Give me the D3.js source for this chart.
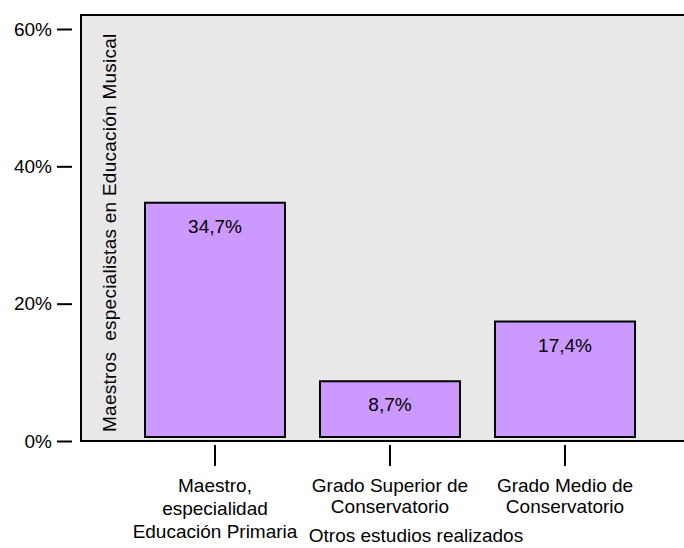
<!DOCTYPE html>
<html>
<head>
<meta charset="utf-8">
<script src="https://cdn.jsdelivr.net/npm/d3@7"></script>
<style>
  html, body { margin: 0; padding: 0; background: #ffffff; }
  svg { display: block; font-family: "Liberation Sans", Arial, Helvetica, sans-serif; }
</style>
</head>
<body>
<svg id="chart" width="684" height="548"></svg>
<script>
// Studies completed by music-education specialist teachers
const categories = ["maestro", "superior", "medio"];
const categoryLines = [
  ["Maestro,", "especialidad", "Educación Primaria"],
  ["Grado Superior de", "Conservatorio"],
  ["Grado Medio de", "Conservatorio"]
];
const values = [34.7, 8.7, 17.4];
const valueLabels = ["34,7%", "8,7%", "17,4%"];
const yTicks = [0, 20, 40, 60];
const yTickLabels = ["0%", "20%", "40%", "60%"];
const yTitle = "Maestros  especialistas en Educación Musical";
const xTitle = "Otros estudios realizados";

const svg = d3.select("#chart");
const plot = { left: 81, top: 15, right: 686, bottom: 441 };

const y = d3.scaleLinear().domain([0, 60]).range([441, 29]);
const x = d3.scaleBand()
  .domain(categories)
  .range([127.5, 652.5])
  .paddingInner(0.2)
  .paddingOuter(0.1);

// Plot background and frame
svg.append("rect")
  .attr("x", plot.left).attr("y", plot.top)
  .attr("width", plot.right - plot.left).attr("height", plot.bottom - plot.top)
  .attr("fill", "#e8e8e8")
  .attr("stroke", "#000").attr("stroke-width", 2);

// Y axis: detached tick marks with labels
const yAxis = svg.append("g").attr("transform", "translate(72,0)")
  .call(d3.axisLeft(y).tickValues(yTicks).tickSize(15).tickPadding(5)
    .tickFormat((d, i) => yTickLabels[i]));
yAxis.select(".domain").remove();
yAxis.selectAll(".tick line").attr("stroke", "#000").attr("stroke-width", 2);
yAxis.selectAll(".tick text")
  .attr("font-size", 19).attr("fill", "#000")
  .attr("font-family", "Liberation Sans, Arial, sans-serif");

// Bars
const gap = 4; // bars sit slightly above the baseline
svg.append("g").selectAll("rect")
  .data(values)
  .join("rect")
  .attr("x", (d, i) => x(categories[i]))
  .attr("width", x.bandwidth())
  .attr("y", d => y(d))
  .attr("height", d => y(0) - gap - y(d))
  .attr("fill", "#cc99ff")
  .attr("stroke", "#000")
  .attr("stroke-width", 2);

// Value labels inside bars
svg.append("g").selectAll("text")
  .data(values)
  .join("text")
  .attr("x", (d, i) => x(categories[i]) + x.bandwidth() / 2)
  .attr("y", d => y(d) + 30)
  .attr("text-anchor", "middle")
  .attr("font-size", 19)
  .attr("fill", "#000")
  .text((d, i) => valueLabels[i]);

// X axis: tick marks below the frame and multi-line category labels
const xg = svg.append("g");
categories.forEach((c, i) => {
  const cx = x(c) + x.bandwidth() / 2;
  xg.append("line")
    .attr("x1", cx).attr("x2", cx)
    .attr("y1", 445).attr("y2", 466)
    .attr("stroke", "#000").attr("stroke-width", 2);
  const t = xg.append("text")
    .attr("text-anchor", "middle")
    .attr("font-size", 19)
    .attr("fill", "#000");
  const lineGap = categoryLines[i].length > 2 ? 23 : 20.5;
  categoryLines[i].forEach((line, j) => {
    t.append("tspan")
      .attr("x", cx)
      .attr("y", 492 + j * lineGap)
      .text(line);
  });
});

// Axis titles
svg.append("text")
  .attr("x", 416).attr("y", 542)
  .attr("text-anchor", "middle")
  .attr("font-size", 19)
  .attr("fill", "#000")
  .text(xTitle);

svg.append("text")
  .attr("transform", "translate(116,432) rotate(-90)")
  .attr("text-anchor", "start")
  .attr("font-size", 19)
  .attr("letter-spacing", 0.25)
  .attr("fill", "#000")
  .style("white-space", "pre")
  .text(yTitle);
</script>
</body>
</html>
